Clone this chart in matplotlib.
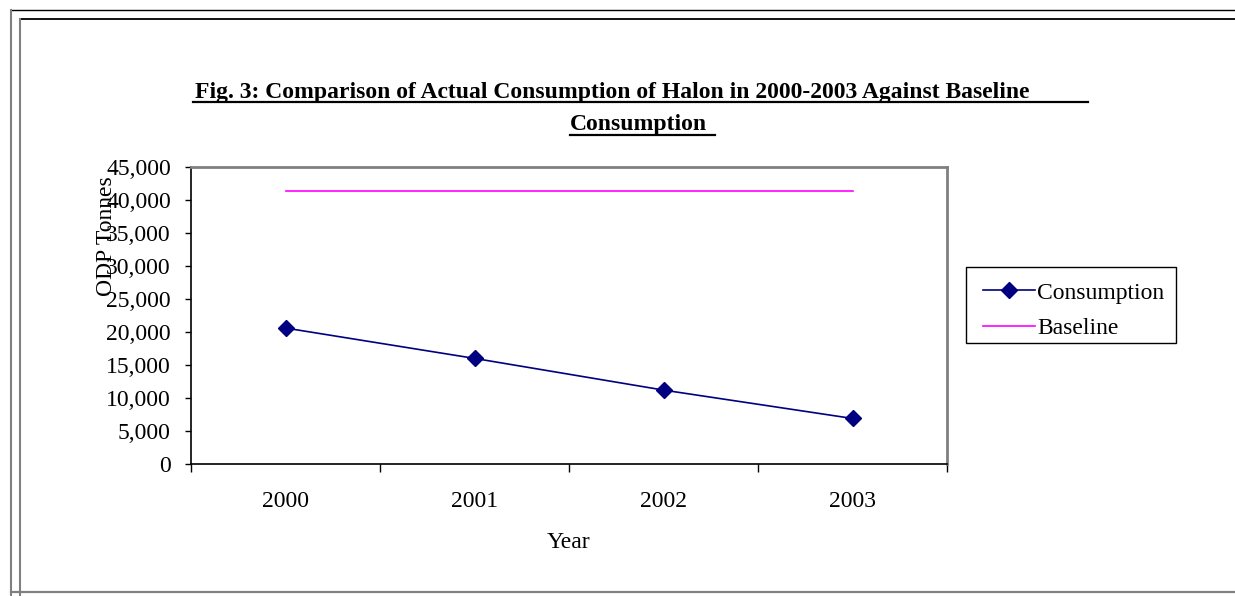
import matplotlib
matplotlib.use("Agg")
import matplotlib.pyplot as plt
from matplotlib.lines import Line2D
from matplotlib.patches import Rectangle
from matplotlib.ticker import FuncFormatter, FixedLocator

plt.rcParams['font.family'] = ['Liberation Serif', 'DejaVu Serif']

years = ['2000', '2001', '2002', '2003']
consumption = [20600, 16000, 11200, 6900]
baseline = [41400, 41400, 41400, 41400]

W, H = 1235, 596
fig = plt.figure(figsize=(W / 100, H / 100), dpi=100)
fig.patch.set_facecolor('white')


def fx(x):
    return x / W


def fy(y):
    return 1 - y / H


# plot area (pixel box on the page)
left, right, top, bottom = 191, 947, 167, 464
ax = fig.add_axes([fx(left), fy(bottom), fx(right - left), (bottom - top) / H])

xs = range(len(years))
ax.plot(xs, consumption, color='#000080', lw=1.2, marker='D', ms=8.5,
        label='Consumption')
ax.plot(xs, baseline, color='#FF00FF', lw=1.2, label='Baseline')

ax.set_xlim(-0.5, len(years) - 0.5)
ax.set_ylim(0, 45000)
ax.set_yticks(range(0, 45001, 5000))
ax.yaxis.set_major_formatter(FuncFormatter(lambda v, p: f'{int(v):,}'))

ax.xaxis.set_major_locator(FixedLocator(list(xs)))
ax.set_xticklabels(years)
ax.xaxis.set_minor_locator(FixedLocator([i - 0.5 for i in range(len(years) + 1)]))
ax.tick_params(axis='x', which='major', length=0, pad=19.5, labelsize=17)
ax.tick_params(axis='x', which='minor', length=5.5, width=1, direction='out')
ax.tick_params(axis='y', length=4.5, width=1, direction='out', pad=10, labelsize=17)

for s in ('left', 'bottom'):
    ax.spines[s].set_color('black')
    ax.spines[s].set_linewidth(1.2)
for s in ('top', 'right'):
    ax.spines[s].set_color('#808080')
    ax.spines[s].set_linewidth(2)

# axis titles
fig.text(fx(106), fy(236), 'ODP Tonnes', rotation=90, ha='center', va='center', fontsize=17)
fig.text(fx(568), fy(543), 'Year', ha='center', va='center', fontsize=17)

# underlined two-line title
fig.text(fx(195), fy(98), 'Fig. 3: Comparison of Actual Consumption of Halon in 2000-2003 Against Baseline',
         ha='left', va='baseline', fontsize=17, fontweight='bold')
fig.text(fx(570), fy(130), 'Consumption', ha='left', va='baseline', fontsize=17, fontweight='bold')
fig.add_artist(Line2D([fx(193), fx(1088)], [fy(102), fy(102)], color='black', lw=1.6))
fig.add_artist(Line2D([fx(570), fx(715)], [fy(135), fy(135)], color='black', lw=1.6))

# legend: box drawn separately, entries placed inside it
fig.add_artist(Rectangle((fx(966), fy(343)), fx(1176 - 966), (343 - 267) / H,
                         transform=fig.transFigure, fill=False, edgecolor='black', lw=1.0))
fig.legend(loc='upper left', bbox_to_anchor=(fx(983), fy(282)), fontsize=17,
           frameon=False, handlelength=2.2, handletextpad=0.1,
           labelspacing=0.6, borderpad=0, borderaxespad=0)

# page border lines
fig.add_artist(Line2D([fx(11), 1], [fy(10), fy(10)], color='black', lw=1.0))
fig.add_artist(Line2D([fx(11), fx(11)], [fy(10), 0], color='#808080', lw=1.5))
fig.add_artist(Line2D([fx(20), 1], [fy(19), fy(19)], color='black', lw=1.3))
fig.add_artist(Line2D([fx(20), fx(20)], [fy(19), 0], color='#808080', lw=1.5))
fig.add_artist(Line2D([fx(11), 1], [fy(592), fy(592)], color='#808080', lw=1.6))

fig.savefig('out.png', dpi=100, facecolor='white')
